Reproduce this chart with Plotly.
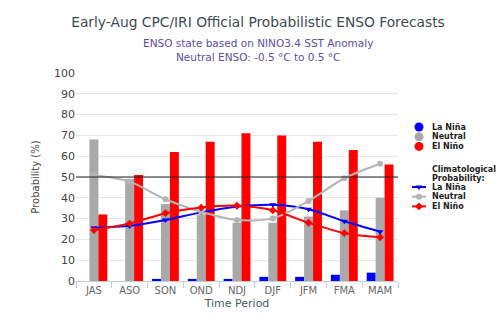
import plotly.graph_objects as go

# Forecast seasons
seasons = ["JAS", "ASO", "SON", "OND", "NDJ", "DJF", "JFM", "FMA", "MAM"]

# Official forecast probabilities (%)
la_nina = [0, 0, 1, 1, 1, 2, 2, 3, 4]
neutral = [68, 49, 37, 32, 28, 28, 31, 34, 40]
el_nino = [32, 51, 62, 67, 71, 70, 67, 63, 56]

# Climatological probabilities (%)
clim_la_nina = [25.6, 26.5, 29.3, 33, 35.7, 36.6, 34.5, 28.7, 23.7]
clim_neutral = [51, 47.8, 39.3, 33.3, 29.3, 30.1, 38.5, 49.4, 56.4]
clim_el_nino = [24.5, 27.6, 32.6, 35.3, 36.2, 34, 28, 23, 21]

# Legend labels
state_names = ["La Niña", "Neutral", "El Niño"]
clim_title = ["Climatological", "Probability:"]

BLUE = "#0000ff"
GRAY = "#a9a9a9"
LGRAY = "#b4b4b4"
RED = "#ff0000"
FONT = "DejaVu Sans"

W, H = 500, 324
ML, MR, MT, MB = 76, 8, 73, 43
PW = W - ML - MR
MAIN_FRAC = 322 / PW          # main plot takes the left part; legend panel on the right

fig = go.Figure()

for name, vals, col in zip(state_names, [la_nina, neutral, el_nino], [BLUE, GRAY, RED]):
    fig.add_trace(go.Bar(x=seasons, y=vals, name=name, marker_color=col,
                         marker_line_width=0, showlegend=False))

clim_series = [clim_la_nina, clim_neutral, clim_el_nino]
clim_colors = [BLUE, LGRAY, RED]
clim_symbols = ["triangle-down", "circle", "diamond"]
for name, vals, col, sym in zip(state_names, clim_series, clim_colors, clim_symbols):
    fig.add_trace(go.Scatter(x=seasons, y=vals, name=name, mode="lines+markers",
                             line=dict(color=col, width=2, shape="spline", smoothing=0.8),
                             marker=dict(color=col, size=6, symbol=sym),
                             showlegend=False))

# 50% reference line spanning the category axis
fig.add_shape(type="line", xref="x", yref="y", x0=-0.5, x1=len(seasons) - 0.5, y0=50, y1=50,
              line=dict(color="#222222", width=1), layer="above")

# ---- legend panel (own axes, units in px from the panel's top-left) ----
panel_left_px = ML + MAIN_FRAC * PW
panel_w = PW - MAIN_FRAC * PW
row_h = 9.7
key_x = 419 - panel_left_px
txt_x = 430 - panel_left_px
rows_top = [127 - MT + i * row_h for i in range(3)]
rows_title = [169 - MT + i * 9.2 for i in range(2)]
rows_clim = [187 - MT + i * row_h for i in range(3)]

legend_font = dict(size=8, color="#222", weight="bold")

for name, col, yy in zip(state_names, [BLUE, GRAY, RED], rows_top):
    fig.add_trace(go.Scatter(x=[key_x], y=[yy], mode="markers", xaxis="x2", yaxis="y2",
                             marker=dict(color=col, size=9, symbol="circle"),
                             showlegend=False, hoverinfo="skip"))
    fig.add_annotation(text=name, xref="x2", yref="y2", x=txt_x, y=yy,
                       xanchor="left", yanchor="middle", showarrow=False, font=legend_font)

for line, yy in zip(clim_title, rows_title):
    fig.add_annotation(text=line, xref="x2", yref="y2", x=txt_x, y=yy,
                       xanchor="left", yanchor="middle", showarrow=False, font=legend_font)

for name, col, sym, yy in zip(state_names, clim_colors, clim_symbols, rows_clim):
    fig.add_trace(go.Scatter(x=[key_x - 7, key_x + 7], y=[yy, yy], mode="lines", xaxis="x2", yaxis="y2",
                             line=dict(color=col, width=2), showlegend=False, hoverinfo="skip"))
    fig.add_trace(go.Scatter(x=[key_x], y=[yy], mode="markers", xaxis="x2", yaxis="y2",
                             marker=dict(color=col, size=6, symbol=sym),
                             showlegend=False, hoverinfo="skip"))
    fig.add_annotation(text=name, xref="x2", yref="y2", x=txt_x, y=yy,
                       xanchor="left", yanchor="middle", showarrow=False, font=legend_font)

fig.update_layout(
    width=W, height=H,
    margin=dict(l=ML, r=MR, t=MT, b=MB),
    paper_bgcolor="white", plot_bgcolor="white",
    barmode="group", bargap=0.25, bargroupgap=0,
    font=dict(family=FONT, color="#333"),
    showlegend=False,
    title=dict(
        text="Early-Aug CPC/IRI Official Probabilistic ENSO Forecasts",
        x=258 / W, xanchor="center", y=1 - 22 / H, yanchor="middle",
        font=dict(size=13.8, color="#3d4a52"),
    ),
    xaxis=dict(
        domain=[0, MAIN_FRAC],
        range=[-0.5, 8.5], tickmode="array", tickvals=seasons,
        ticks="outside", ticklen=6, tickcolor="#c0d0e0", tickson="boundaries",
        showline=True, linecolor="#c0d0e0", linewidth=1,
        tickfont=dict(size=10, color="#666"),
        title=dict(text="Time Period", font=dict(size=11, color="#4a5a66"), standoff=4),
        showgrid=False,
    ),
    yaxis=dict(
        range=[0, 100], dtick=10, showgrid=True, gridcolor="#e6e6e6",
        zeroline=False, tickfont=dict(size=11, color="#444"),
        title=dict(text="Probability (%)", font=dict(size=10, color="#444"), standoff=12),
    ),
    xaxis2=dict(domain=[MAIN_FRAC, 1], range=[0, panel_w], visible=False, fixedrange=True),
    yaxis2=dict(domain=[0, 1], range=[H - MT - MB, 0], visible=False, fixedrange=True,
                anchor="x2"),
)

# Subtitle lines
fig.add_annotation(text="ENSO state based on NINO3.4 SST Anomaly<br>Neutral ENSO: -0.5 °C to 0.5 °C",
                   xref="paper", yref="paper", x=(258 - ML) / PW, y=1 + (MT - 50) / (H - MT - MB),
                   xanchor="center", yanchor="middle",
                   showarrow=False, font=dict(size=10.5, color="#5a4ea6"))

fig.write_html("out.html")
